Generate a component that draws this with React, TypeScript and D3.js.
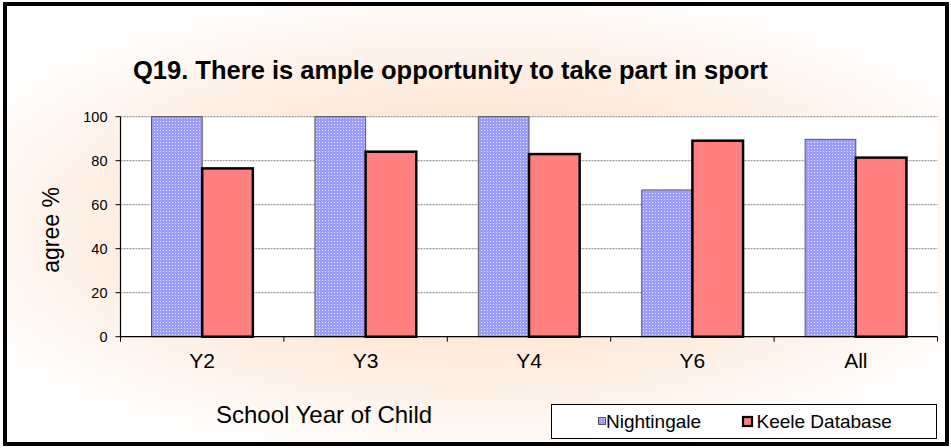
import React from "react";
import * as d3 from "d3";

const categories = ["Y2", "Y3", "Y4", "Y6", "All"];
const nightingale = [100, 100, 100, 66.7, 89.7];
const keele = [76.5, 84.1, 83.0, 89.1, 81.4];
const yTicks = [0, 20, 40, 60, 80, 100];
const seriesNames = ["Nightingale", "Keele Database"];

const W = 951;
const H = 448;
const plot = { left: 120.5, right: 937.5, top: 116.7, bottom: 336.7 };

export default function App() {
  const x = d3.scaleBand<string>().domain(categories).range([plot.left, plot.right]).padding(0);
  const y = d3.scaleLinear().domain([0, 100]).range([plot.bottom, plot.top]);
  const bw = x.bandwidth();
  const barW = bw * 0.31;
  const font = "Arial, 'Liberation Sans', sans-serif";

  return (
    <svg width={W} height={H} style={{ position: "absolute", left: 0, top: 0 }}>
      <defs>
        <radialGradient id="bg" cx="0.5" cy="0.5" r="0.62" gradientUnits="objectBoundingBox" gradientTransform="translate(0.5,0.5) scale(1,0.9) translate(-0.5,-0.5)">
          <stop offset="0" stopColor="#FCDDC2" />
          <stop offset="0.55" stopColor="#FDEBDD" />
          <stop offset="1" stopColor="#FFFFFF" />
        </radialGradient>
        <pattern id="dots" width="3" height="3" patternUnits="userSpaceOnUse">
          <rect width="3" height="3" fill="#9C9CFF" />
          <rect x="1" y="1" width="1" height="1" fill="#E6E6FF" />
        </pattern>
      </defs>
      <rect x={0} y={0} width={W} height={H} fill="#fff" />
      <rect x={5} y={4} width={W - 9} height={H - 8} fill="url(#bg)" stroke="#000" strokeWidth={4} />
      <rect x={plot.left} y={plot.top} width={plot.right - plot.left} height={plot.bottom - plot.top} fill="#fff" />
      {yTicks.filter((t) => t > 0).map((t) => (
        <line key={t} x1={plot.left} x2={plot.right} y1={y(t)} y2={y(t)} stroke="#808080" strokeWidth={1} strokeDasharray="2,1" />
      ))}
      {categories.map((c, i) => {
        const x0 = (x(c) as number) + (bw - 2 * barW) / 2;
        return (
          <g key={c}>
            <rect x={x0} y={y(nightingale[i])} width={barW} height={y(0) - y(nightingale[i])} fill="url(#dots)" stroke="#555" strokeWidth={1} />
            <rect x={x0 + barW} y={y(keele[i])} width={barW} height={y(0) - y(keele[i])} fill="#FF8080" stroke="#000" strokeWidth={2.5} />
          </g>
        );
      })}
      <line x1={plot.left} x2={plot.left} y1={plot.top} y2={plot.bottom} stroke="#000" strokeWidth={1.2} />
      <line x1={plot.left} x2={plot.right} y1={plot.bottom} y2={plot.bottom} stroke="#000" strokeWidth={1.2} />
      {yTicks.map((t) => (
        <g key={t}>
          <line x1={plot.left - 5} x2={plot.left} y1={y(t)} y2={y(t)} stroke="#000" />
          <text x={plot.left - 13} y={y(t) + 5} textAnchor="end" fontFamily={font} fontSize={14.5}>{t}</text>
        </g>
      ))}
      {categories.concat(["__end"]).map((c, i) => {
        const xx = plot.left + i * bw;
        return <line key={c} x1={xx} x2={xx} y1={plot.bottom} y2={plot.bottom + 5} stroke="#000" />;
      })}
      {categories.map((c) => (
        <text key={c} x={(x(c) as number) + bw / 2} y={368} textAnchor="middle" fontFamily={font} fontSize={21}>{c}</text>
      ))}
      <text x={133} y={78.5} textAnchor="start" fontFamily={font} fontSize={25.5} fontWeight="bold">Q19. There is ample opportunity to take part in sport</text>
      <text transform={`translate(59,230) rotate(-90)`} textAnchor="middle" fontFamily={font} fontSize={23}>agree %</text>
      <text x={324} y={423} textAnchor="middle" fontFamily={font} fontSize={24}>School Year of Child</text>
      <rect x={551.5} y={404.5} width={385} height={34} fill="#fff" stroke="#000" strokeWidth={1} />
      <rect x={598.5} y={417.5} width={7} height={7} fill="url(#dots)" stroke="#555" strokeWidth={1} />
      <text x={606} y={427.5} fontFamily={font} fontSize={19}>{seriesNames[0]}</text>
      <rect x={743} y={417} width={9} height={9} fill="#FF8080" stroke="#000" strokeWidth={2.2} />
      <text x={756.5} y={427.5} fontFamily={font} fontSize={19}>{seriesNames[1]}</text>
    </svg>
  );
}
